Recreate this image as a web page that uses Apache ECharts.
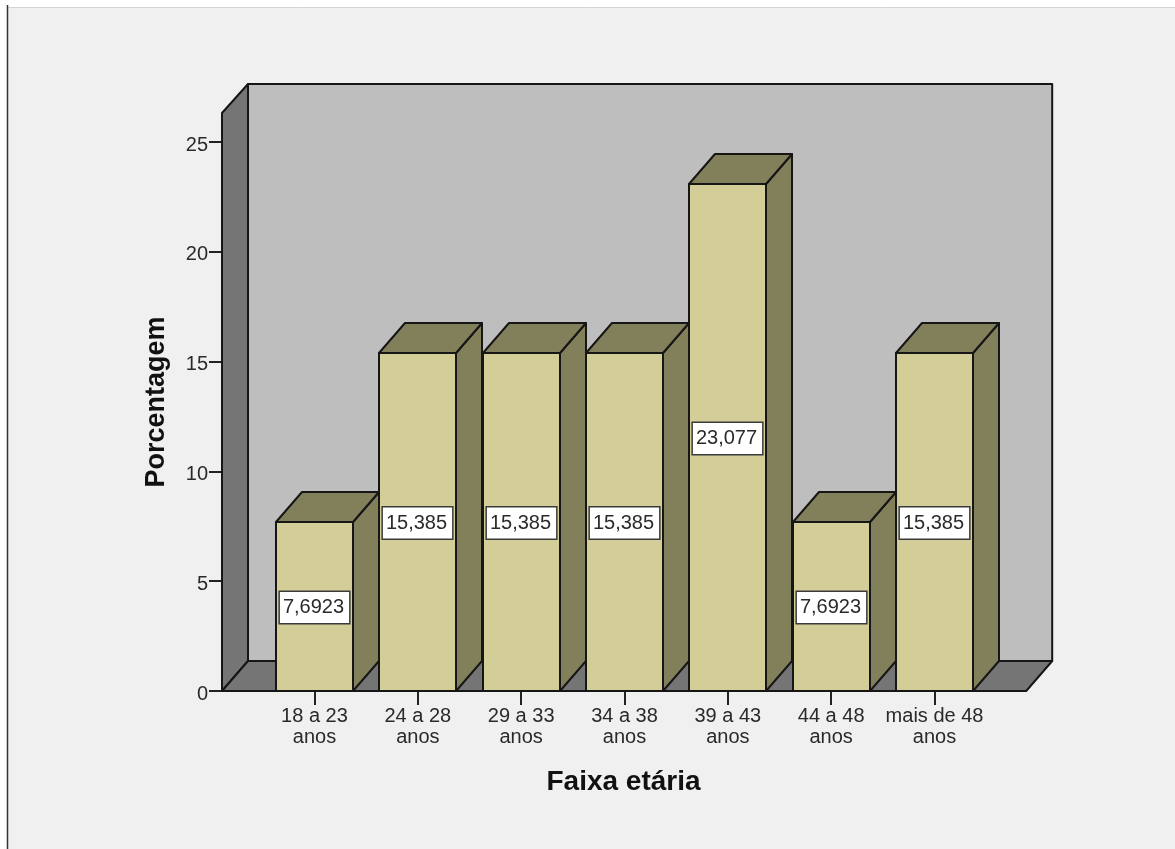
<!DOCTYPE html>
<html lang="pt">
<head>
<meta charset="utf-8">
<title>Faixa etária</title>
<style>
  html, body { margin: 0; padding: 0; background: #ffffff; }
  #chart { width: 1175px; height: 849px; }
</style>
<script src="https://cdn.jsdelivr.net/npm/echarts@6/dist/echarts.min.js"></script>
</head>
<body>
<div id="chart"></div>
<script>
// Age-band percentages
const categories = ['18 a 23\nanos', '24 a 28\nanos', '29 a 33\nanos', '34 a 38\nanos', '39 a 43\nanos', '44 a 48\nanos', 'mais de 48\nanos'];
const percentages = [7.6923, 15.385, 15.385, 15.385, 23.077, 7.6923, 15.385];
const valueTicks = [0, 5, 10, 15, 20, 25];
const axisMax = 26.32;

// Oblique projection used for the box look, in pixels
const DEPTH_X = 26;
const DEPTH_Y = 30;
const WALL_PAD_LEFT = 40.8;
const WALL_PAD_RIGHT = 40;
const EDGE = { stroke: '#161616', lineWidth: 2, lineJoin: 'round' };
const FONT = '"Liberation Sans", Arial, sans-serif';
const TEXT = '#2a2a2a';

function decimalComma(v) {
  return String(v).replace('.', ',');
}

function poly(points, fill) {
  return { type: 'polygon', shape: { points }, style: { fill, ...EDGE } };
}

// Back wall, left wall and floor of the plot box
function renderWalls(params, api) {
  const cs = params.coordSys;
  const l = cs.x - WALL_PAD_LEFT, r = cs.x + cs.width + WALL_PAD_RIGHT;
  const t = cs.y, b = cs.y + cs.height;
  return {
    type: 'group',
    children: [
      poly([[l + DEPTH_X, t - DEPTH_Y + 1], [r + DEPTH_X, t - DEPTH_Y + 1], [r + DEPTH_X, b - DEPTH_Y], [l + DEPTH_X, b - DEPTH_Y]], '#bebebe'),
      poly([[l, t], [l + DEPTH_X, t - DEPTH_Y + 1], [l + DEPTH_X, b - DEPTH_Y], [l, b]], '#757575'),
      poly([[l, b], [l + DEPTH_X, b - DEPTH_Y], [r + DEPTH_X, b - DEPTH_Y], [r, b]], '#757575')
    ]
  };
}

// One column: side face, top face, front face and its value box
function renderColumn(params, api) {
  const index = api.value(0);
  const value = api.value(1);
  const base = api.coord([index, 0]);
  const top = api.coord([index, value]);
  const width = api.size([1, 0])[0] * 0.745;
  const x0 = Math.round(base[0] - width / 2);
  const x1 = x0 + Math.round(width);
  const y0 = Math.round(top[1]);
  const y1 = Math.round(base[1]);
  return {
    type: 'group',
    children: [
      poly([[x1, y0], [x1 + DEPTH_X, y0 - DEPTH_Y], [x1 + DEPTH_X, y1 - DEPTH_Y], [x1, y1]], '#82805a'),
      poly([[x0, y0], [x0 + DEPTH_X, y0 - DEPTH_Y], [x1 + DEPTH_X, y0 - DEPTH_Y], [x1, y0]], '#82805a'),
      poly([[x0, y0], [x1, y0], [x1, y1], [x0, y1]], '#d3ce97'),
      {
        type: 'text',
        style: {
          x: (x0 + x1) / 2,
          y: (y0 + y1) / 2 + 1,
          text: decimalComma(value),
          align: 'center',
          verticalAlign: 'middle',
          fill: TEXT,
          font: '20px ' + FONT,
          backgroundColor: '#ffffff',
          borderColor: '#3a3a3a',
          borderWidth: 1.5,
          padding: [6, 5, 5, 3]
        }
      }
    ]
  };
}

const chart = echarts.init(document.getElementById('chart'), null, { renderer: 'canvas' });

chart.setOption({
  animation: false,
  backgroundColor: '#ffffff',
  graphic: [
    { type: 'rect', shape: { x: 8, y: 8, width: 1167, height: 841 }, style: { fill: '#f0f0f0' }, silent: true },
    { type: 'line', shape: { x1: 8, y1: 7.5, x2: 1175, y2: 7.5 }, style: { stroke: '#d4d4d4', lineWidth: 1 }, silent: true },
    { type: 'line', shape: { x1: 7.5, y1: 5, x2: 7.5, y2: 849 }, style: { stroke: '#333333', lineWidth: 1.5 }, silent: true }
  ],
  grid: { left: 262.8, top: 113, width: 723.4, height: 578, containLabel: false },
  xAxis: {
    type: 'category',
    data: categories,
    name: 'Faixa etária',
    nameLocation: 'middle',
    nameGap: 77,
    nameTextStyle: { fontFamily: FONT, fontSize: 28, fontWeight: 'bold', color: '#111111', padding: [0, 2, 0, 0] },
    axisLine: { show: false },
    axisTick: { show: true, alignWithLabel: true, length: 14, lineStyle: { color: '#222222', width: 2 } },
    axisLabel: { interval: 0, margin: 15, fontFamily: FONT, fontSize: 20, lineHeight: 21, color: TEXT }
  },
  yAxis: {
    type: 'value',
    min: 0,
    max: axisMax,
    offset: WALL_PAD_LEFT,
    name: 'Porcentagem',
    nameLocation: 'middle',
    nameGap: 52,
    nameTextStyle: { fontFamily: FONT, fontSize: 27, fontWeight: 'bold', color: '#111111' },
    splitLine: { show: false },
    axisLine: { show: false },
    axisTick: { show: true, length: 13, customValues: valueTicks, lineStyle: { color: '#222222', width: 2 } },
    axisLabel: { margin: 14, customValues: valueTicks, fontFamily: FONT, fontSize: 20, color: TEXT, verticalAlign: 'top', lineHeight: 6 }
  },
  series: [
    {
      type: 'custom',
      coordinateSystem: 'cartesian2d',
      renderItem: renderWalls,
      data: [[0, 0]],
      z: 1,
      silent: true
    },
    {
      type: 'custom',
      coordinateSystem: 'cartesian2d',
      renderItem: renderColumn,
      encode: { x: 0, y: 1 },
      data: percentages.map((v, i) => [i, v]),
      z: 2
    }
  ]
});
</script>
</body>
</html>
